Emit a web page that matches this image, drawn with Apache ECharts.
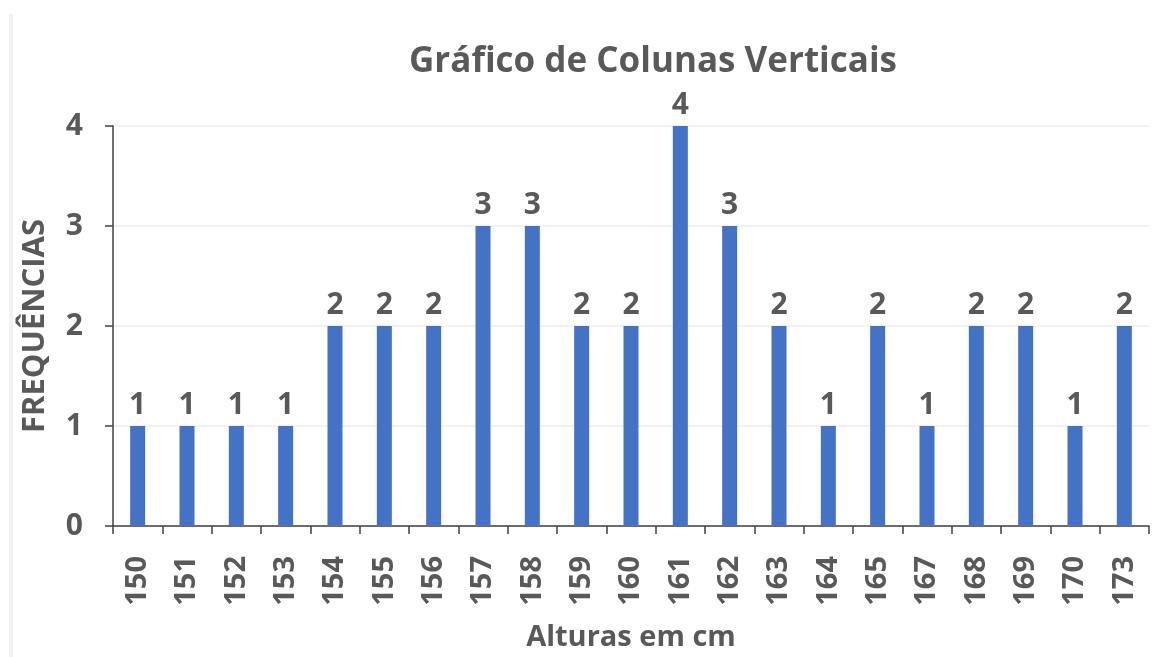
<!DOCTYPE html>
<html>
<head>
<meta charset="utf-8">
<script src="https://cdn.jsdelivr.net/npm/echarts@6/dist/echarts.min.js"></script>
<style>
html,body{margin:0;padding:0;background:#fff;}
#chart{width:1153px;height:657px;}
</style>
</head>
<body>
<div id="chart"></div>
<script>
const categories = ['150','151','152','153','154','155','156','157','158','159','160','161','162','163','164','165','167','168','169','170','173'];
const frequencies = [1,1,1,1,2,2,2,3,3,2,2,4,3,2,1,2,1,2,2,1,2];
const yTicks = [0,1,2,3,4];

const FONT = '"Open Sans", sans-serif';
const TEXT = '#595959';
const chart = echarts.init(document.getElementById('chart'));
chart.setOption({
  animation: false,
  backgroundColor: '#ffffff',
  title: {
    text: 'Gráfico de Colunas Verticais',
    left: 648, top: 40,
    textAlign: 'center',
    textStyle: { fontFamily: FONT, fontSize: 35, fontWeight: 'bold', color: TEXT }
  },
  graphic: [{
    type: 'line', shape: { x1: 11, y1: 14, x2: 11, y2: 657 },
    style: { stroke: '#f2f2f2', lineWidth: 4 }
  }],
  grid: { left: 113, right: 4, top: 126, bottom: 129, containLabel: false },
  xAxis: {
    type: 'category',
    data: categories,
    name: 'Alturas em cm',
    nameLocation: 'middle',
    nameGap: 97,
    nameTextStyle: { fontFamily: FONT, fontSize: 29, fontWeight: 'bold', color: TEXT },
    axisLine: { lineStyle: { color: '#404040', width: 1.5 } },
    axisTick: { show: true, alignWithLabel: false, length: 8, lineStyle: { color: '#404040', width: 1.5 } },
    axisLabel: { rotate: 90, margin: 30, fontFamily: FONT, fontSize: 29, fontWeight: 'bold', color: TEXT }
  },
  yAxis: {
    type: 'value',
    min: yTicks[0], max: yTicks[yTicks.length - 1], interval: 1,
    name: 'FREQUÊNCIAS',
    nameLocation: 'middle',
    nameGap: 62,
    nameRotate: 90,
    nameTextStyle: { fontFamily: FONT, fontSize: 31, fontWeight: 'bold', color: TEXT },
    axisLine: { show: true, lineStyle: { color: '#404040', width: 1.5 } },
    axisTick: { show: true, length: 8, lineStyle: { color: '#404040', width: 1.5 } },
    axisLabel: { margin: 30, fontFamily: FONT, fontSize: 30, fontWeight: 'bold', color: TEXT },
    splitLine: { show: true, lineStyle: { color: '#eeeeee', width: 1.5 } }
  },
  series: [{
    type: 'bar',
    data: frequencies,
    barWidth: 15,
    itemStyle: { color: '#4472C4' },
    label: {
      show: true, position: 'top', distance: 6,
      fontFamily: FONT, fontSize: 30, fontWeight: 'bold', color: TEXT
    }
  }]
});
</script>
</body>
</html>
